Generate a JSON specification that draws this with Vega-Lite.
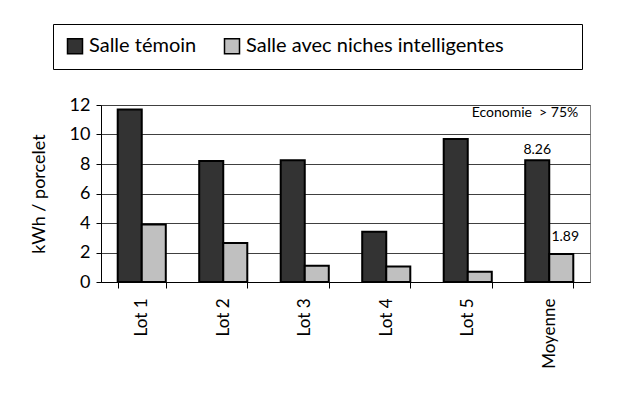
{
  "$schema": "https://vega.github.io/schema/vega-lite/v6.json",
  "autosize": {"type": "none"},
  "width": 489,
  "height": 177,
  "padding": {"left": 101, "top": 105, "right": 28, "bottom": 128},
  "background": "white",
  "config": {
    "font": "Lato",
    "view": {"stroke": "#808080", "strokeWidth": 1},
    "axis": {"labelFont": "Lato", "titleFont": "Lato", "labelColor": "black", "titleColor": "black"}
  },
  "datasets": {
    "bars": [
      {"lot": "Lot 1", "salle": "Salle témoin", "value": 11.7},
      {"lot": "Lot 1", "salle": "Salle avec niches intelligentes", "value": 3.9},
      {"lot": "Lot 2", "salle": "Salle témoin", "value": 8.2},
      {"lot": "Lot 2", "salle": "Salle avec niches intelligentes", "value": 2.65},
      {"lot": "Lot 3", "salle": "Salle témoin", "value": 8.25},
      {"lot": "Lot 3", "salle": "Salle avec niches intelligentes", "value": 1.1},
      {"lot": "Lot 4", "salle": "Salle témoin", "value": 3.4},
      {"lot": "Lot 4", "salle": "Salle avec niches intelligentes", "value": 1.05},
      {"lot": "Lot 5", "salle": "Salle témoin", "value": 9.7},
      {"lot": "Lot 5", "salle": "Salle avec niches intelligentes", "value": 0.7},
      {"lot": "Moyenne", "salle": "Salle témoin", "value": 8.26},
      {"lot": "Moyenne", "salle": "Salle avec niches intelligentes", "value": 1.89}
    ],
    "note": [
      {"lot": "Moyenne", "value": 12, "label": "Economie \u00a0> 75%"}
    ]
  },
  "encoding": {
    "x": {
      "field": "lot", "type": "nominal", "sort": null,
      "scale": {"paddingInner": 0.41, "paddingOuter": 0.205},
      "axis": {
        "title": null, "labelAngle": -90, "labelAlign": "right", "labelBaseline": "middle",
        "labelFontSize": 17, "labelPadding": 10, "tickBand": "extent",
        "domainColor": "black", "tickColor": "black", "tickSize": 6, "grid": false
      }
    },
    "y": {
      "field": "value", "type": "quantitative",
      "scale": {"domain": [0, 12]},
      "axis": {
        "title": "kWh / porcelet", "titleFontSize": 18, "titleFontWeight": "normal", "titlePadding": 21,
        "values": [0, 2, 4, 6, 8, 10, 12], "labelOverlap": false, "labelFontSize": 18, "labelPadding": 6,
        "domainColor": "black", "tickColor": "black", "tickSize": 5,
        "grid": true, "gridColor": "#404040", "gridWidth": 1
      }
    }
  },
  "layer": [
    {
      "data": {"name": "bars"},
      "mark": {"type": "bar", "stroke": "black", "strokeWidth": 2},
      "encoding": {
        "xOffset": {"field": "salle", "type": "nominal", "sort": ["Salle témoin", "Salle avec niches intelligentes"], "scale": {"paddingInner": 0, "paddingOuter": 0}},
        "fill": {
          "field": "salle", "type": "nominal", "sort": ["Salle témoin", "Salle avec niches intelligentes"],
          "scale": {"range": ["#333333", "#c0c0c0"]},
          "legend": {
            "title": null, "orient": "none", "direction": "horizontal",
            "legendX": -48, "legendY": -81,
            "symbolType": "square", "symbolSize": 225, "symbolStrokeColor": "black", "symbolStrokeWidth": 1.5,
            "labelFontSize": 20, "labelFont": "Lato", "labelColor": "black", "labelLimit": 600,
            "columnPadding": 24, "padding": 12, "strokeColor": "black", "fillColor": "white",
            "labelExpr": "datum.label == 'Salle avec niches intelligentes' ? datum.label + '\u00a0\u00a0\u00a0\u00a0\u00a0\u00a0\u00a0\u00a0\u00a0\u00a0\u2800' : datum.label"
          }
        }
      }
    },
    {
      "data": {"name": "bars"},
      "transform": [{"filter": "datum.lot == 'Moyenne' && datum.salle == 'Salle témoin'"}],
      "mark": {"type": "text", "baseline": "bottom", "dy": -3, "fontSize": 14, "font": "Lato", "color": "black"},
      "encoding": {
        "xOffset": {"field": "salle", "type": "nominal", "sort": ["Salle témoin", "Salle avec niches intelligentes"]},
        "text": {"field": "value", "type": "quantitative", "format": ".2f"}
      }
    },
    {
      "data": {"name": "bars"},
      "transform": [{"filter": "datum.lot == 'Moyenne' && datum.salle != 'Salle témoin'"}],
      "mark": {"type": "text", "baseline": "bottom", "dy": -10, "dx": 4, "fontSize": 14, "font": "Lato", "color": "black"},
      "encoding": {
        "xOffset": {"field": "salle", "type": "nominal", "sort": ["Salle témoin", "Salle avec niches intelligentes"]},
        "text": {"field": "value", "type": "quantitative", "format": ".2f"}
      }
    },
    {
      "data": {"name": "note"},
      "mark": {"type": "text", "align": "right", "baseline": "middle", "dx": 29, "dy": 8, "fontSize": 14, "font": "Lato", "color": "black"},
      "encoding": {
        "text": {"field": "label"}
      }
    }
  ]
}
